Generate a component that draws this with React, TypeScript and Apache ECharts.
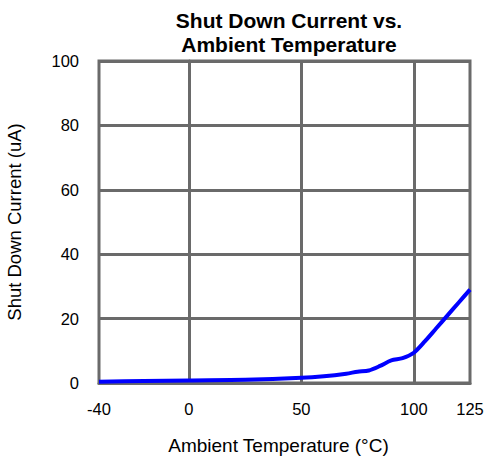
import React, { useEffect, useRef } from "react";
import * as echarts from "echarts";

const temperatures = [-40, -20, 0, 25, 50, 60, 70, 75, 80, 85, 90, 95, 100, 105, 110, 115, 120, 125];
const currents = [0.4, 0.6, 0.8, 1.0, 1.6, 2.1, 2.9, 3.5, 3.9, 5.3, 7.0, 7.7, 9.4, 13, 17, 21, 25, 29];
const xTickValues = [-40, 0, 50, 100, 125];
const xGridValues = [0, 50, 100];

export default function App() {
  const ref = useRef<HTMLDivElement>(null);
  useEffect(() => {
    if (!ref.current) return;
    const chart = echarts.init(ref.current, null, { renderer: "svg" });
    const font = "Arial, 'Liberation Sans', sans-serif";
    const gridColor = "#6a6a6a";
    chart.setOption({
      animation: false,
      textStyle: { fontFamily: font },
      title: {
        text: "Shut Down Current vs.\nAmbient Temperature",
        left: 284,
        textAlign: "center",
        top: 3,
        textStyle: { fontFamily: font, fontSize: 21, fontWeight: "bold", color: "#000", lineHeight: 24 },
      },
      grid: {
        left: 99,
        right: 20,
        top: 61,
        bottom: 81,
        outerBoundsMode: "none",
        containLabel: false,
        show: true,
        borderColor: gridColor,
        borderWidth: 3,
        backgroundColor: "transparent",
      },
      xAxis: {
        type: "value",
        min: -40,
        max: 125,
        name: "Ambient Temperature (°C)",
        nameLocation: "middle",
        nameGap: 53,
        nameTextStyle: { fontFamily: font, fontSize: 19, color: "#000", padding: [0, 12, 0, 0] },
        axisLine: { show: true, lineStyle: { color: gridColor, width: 3 } },
        axisTick: { show: false },
        splitLine: { show: false },
        axisLabel: {
          customValues: xTickValues,
          margin: 17,
          fontFamily: font,
          fontSize: 16.5,
          color: "#000",
        },
      },
      yAxis: {
        type: "value",
        min: 0,
        max: 100,
        interval: 20,
        name: "Shut Down Current (uA)",
        nameLocation: "middle",
        nameGap: 75,
        nameTextStyle: { fontFamily: font, fontSize: 18.5, color: "#000" },
        axisLine: { show: true, lineStyle: { color: gridColor, width: 3 } },
        axisTick: { show: false },
        splitLine: { show: true, lineStyle: { color: gridColor, width: 3 } },
        axisLabel: { margin: 20, fontFamily: font, fontSize: 16.5, color: "#000" },
      },
      series: [
        {
          type: "line",
          data: temperatures.map((t, i) => [t, currents[i]]),
          smooth: 0.3,
          showSymbol: false,
          lineStyle: { color: "#0000FF", width: 4 },
          z: 3,
          markLine: {
            silent: true,
            symbol: ["none", "none"],
            label: { show: false },
            lineStyle: { color: gridColor, width: 3, type: "solid" },
            data: xGridValues.map((v) => ({ xAxis: v })),
            z: 1,
          },
        },
      ],
    });
    return () => chart.dispose();
  }, []);
  return <div ref={ref} style={{ width: 490, height: 464, position: "absolute", left: 0, top: 0 }} />;
}
